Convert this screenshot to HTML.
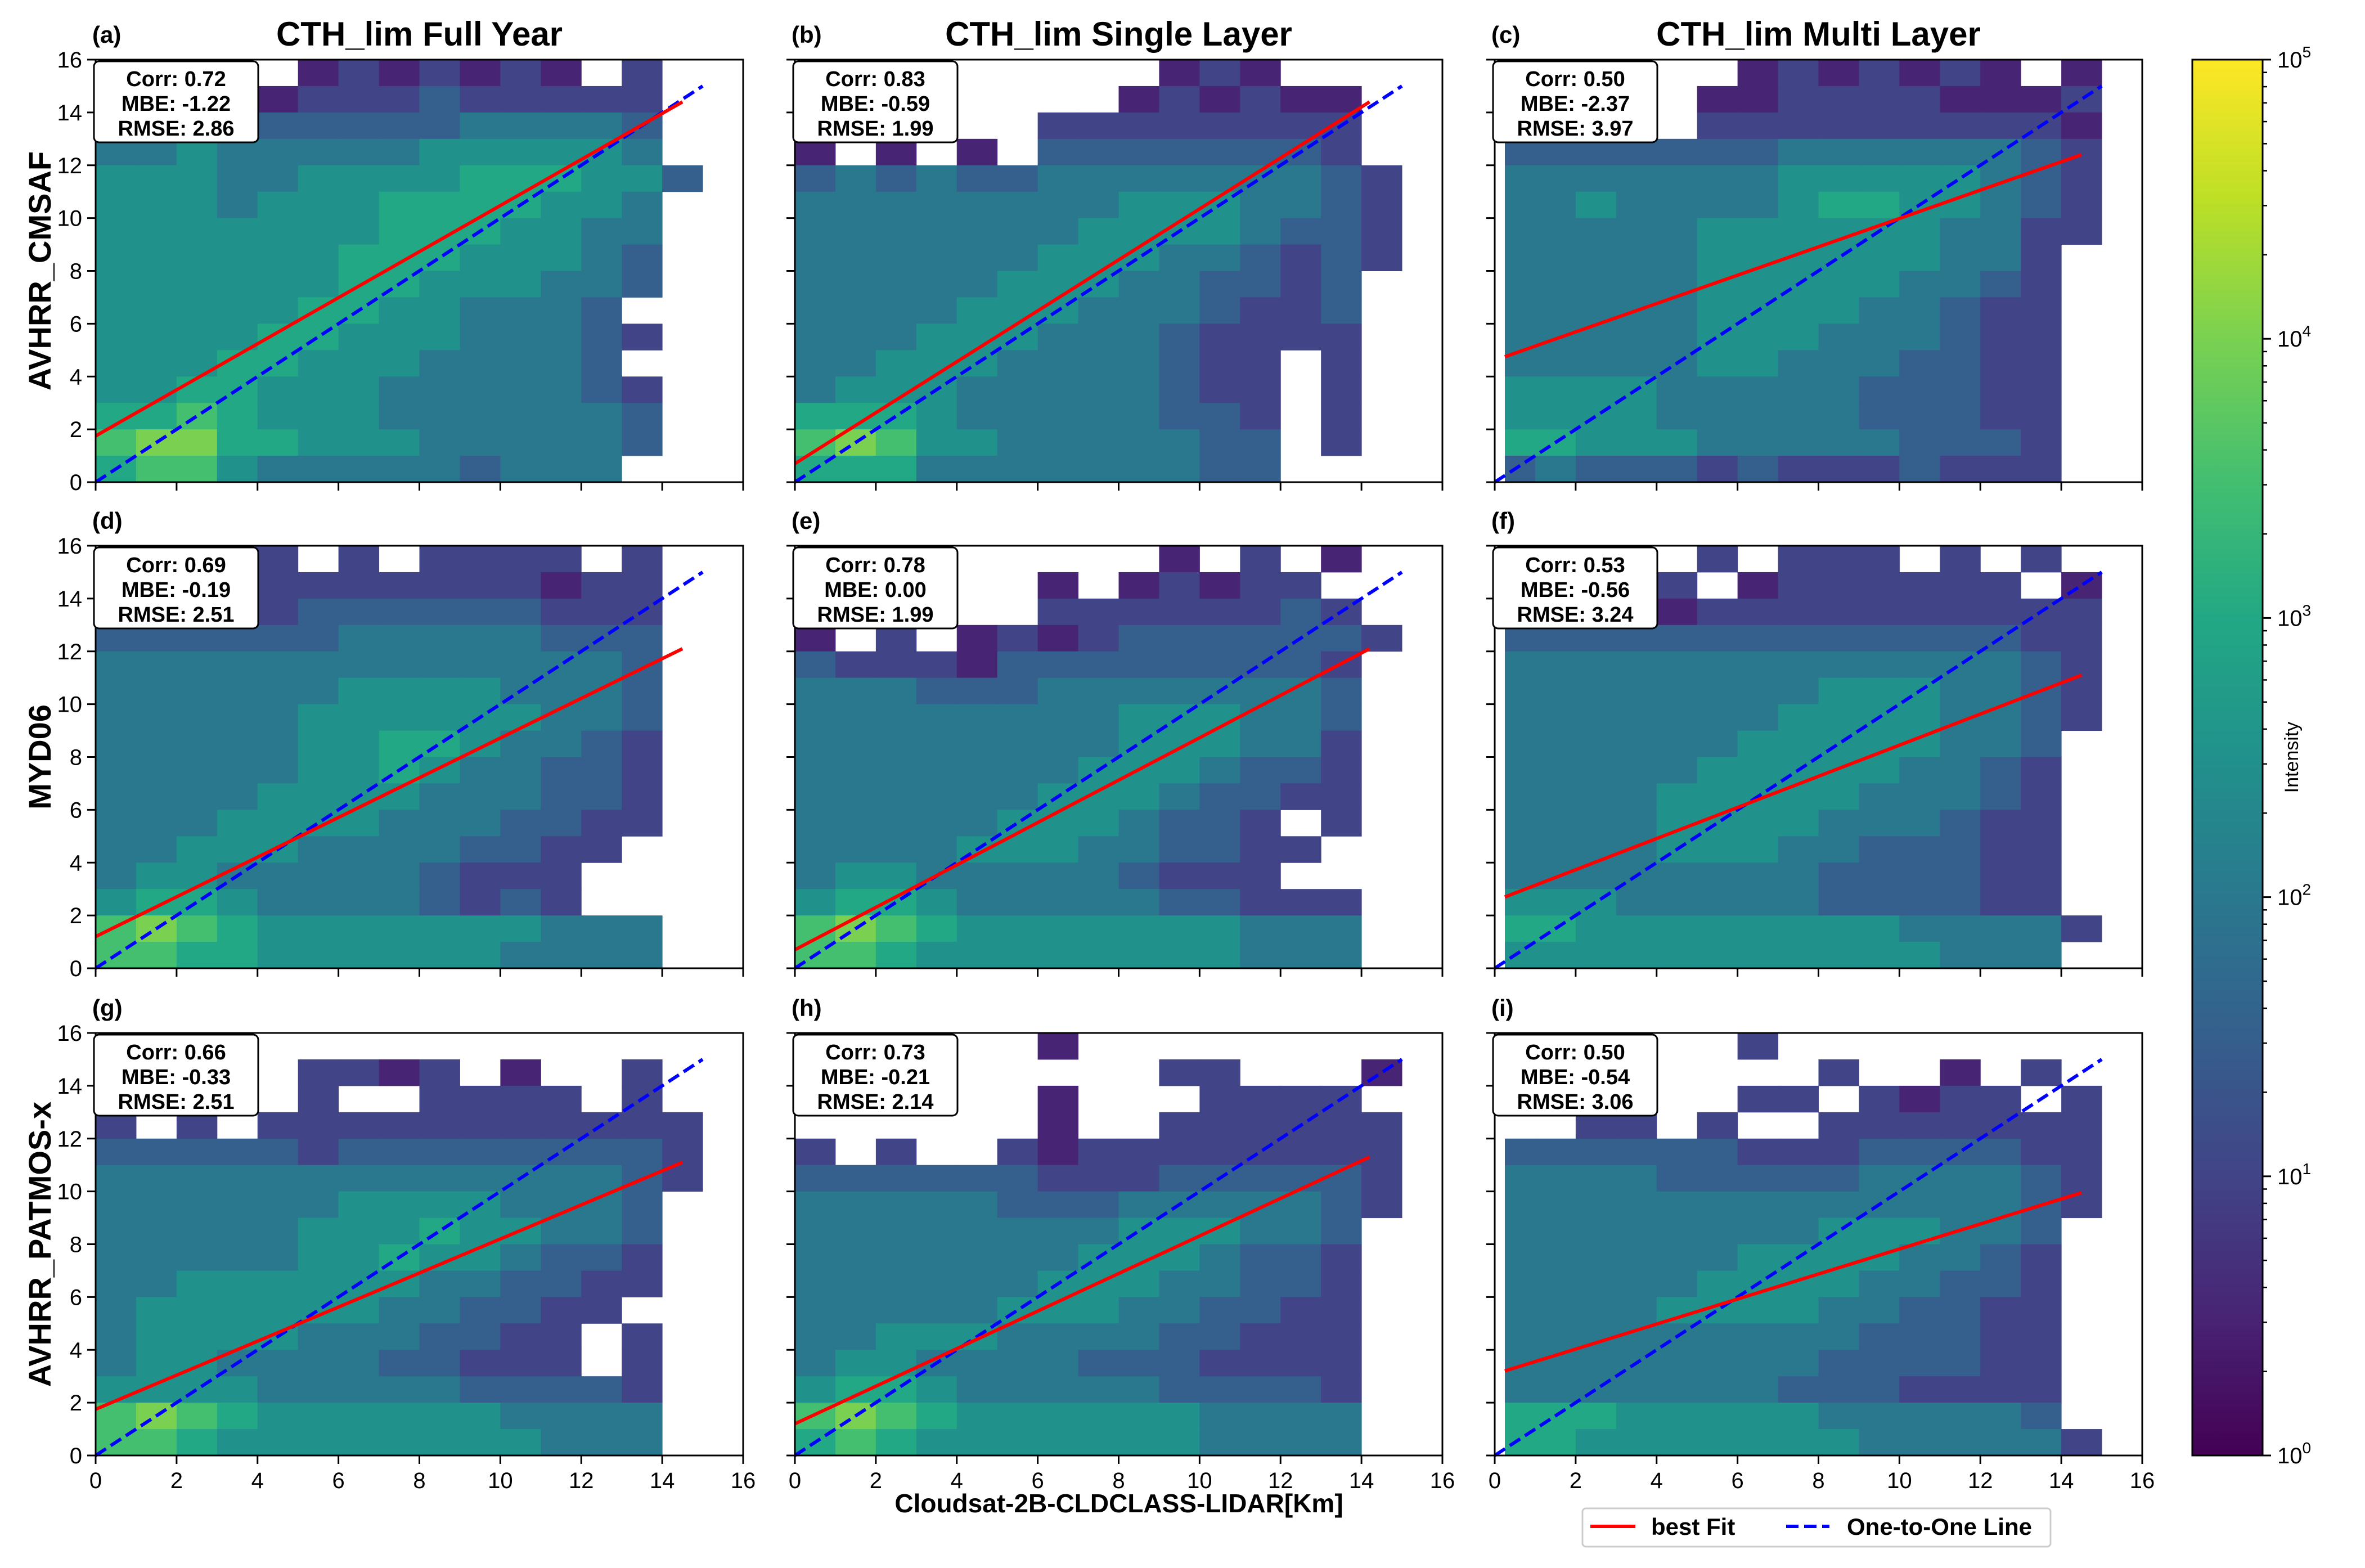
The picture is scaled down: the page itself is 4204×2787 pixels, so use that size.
<!DOCTYPE html>
<html><head><meta charset="utf-8"><style>
html,body{margin:0;padding:0;background:#fff;}
svg{display:block;font-family:"Liberation Sans",sans-serif;}
</style></head><body>
<svg id="fig" width="4204" height="2787" viewBox="0 0 4204 2787" xmlns="http://www.w3.org/2000/svg">
<defs>
<linearGradient id="vir" x1="0" y1="1" x2="0" y2="0">
<stop offset="0" stop-color="#440154"/><stop offset="0.1" stop-color="#482475"/><stop offset="0.2" stop-color="#414487"/><stop offset="0.3" stop-color="#355f8d"/><stop offset="0.4" stop-color="#2a788e"/><stop offset="0.5" stop-color="#21918c"/><stop offset="0.6" stop-color="#22a884"/><stop offset="0.7" stop-color="#44bf70"/><stop offset="0.8" stop-color="#7ad151"/><stop offset="0.9" stop-color="#bddf26"/><stop offset="1" stop-color="#fde725"/>
</linearGradient>
</defs>
<g id="panels"></g>
<g id="cbar"></g>
<text x="1989" y="2688" font-size="46" font-weight="bold" text-anchor="middle">Cloudsat-2B-CLDCLASS-LIDAR[Km]</text>
<text x="4085" y="1346" font-size="34" text-anchor="middle" transform="rotate(-90 4085 1346)">Intensity</text>
<g>
<rect x="2813" y="2681" width="832" height="68" rx="6" fill="#fff" stroke="#cccccc" stroke-width="3"/>
<line x1="2827" y1="2713" x2="2907" y2="2713" stroke="#ff0000" stroke-width="6"/>
<text x="2935" y="2728" font-size="42" font-weight="bold">best Fit</text>
<line x1="3175" y1="2713" x2="3252" y2="2713" stroke="#0000ff" stroke-width="6" stroke-dasharray="22,10"/>
<text x="3283" y="2728" font-size="42" font-weight="bold">One-to-One Line</text>
</g>
</svg>
<script>
// heatmap grids: rows from y=15..16 (top) down to y=0..1; char per 1 km column; digit d -> log10(count)=d*0.5, '.' = empty
const gridA=[".....1212121.2..","...11222322222..","33333333344443..","44544444555554..","5554455556665532","55545556666554..","55555556665544..","55555566655543..","55555566555443..","5555566554443...","55556655544432..","5556655544443...","55665554444432..","66765554444443..","78866555444443..","6775444443444...."];
const gridB=[".........121...","........121211.","......22222222.","1.1.1.33333332.","343433444444432","444444445554432","444444455554332","444444555443232","44444555443323.","44445554443223.","44455544432222.","445554444322.2.","455544444322.2.","666544444332.2.","787554444433.2.","666444444433..."];
const gridC=["......1212121.1",".....1122221112",".....2222222221","333333344444432","444444455555432","445444456655432","444445555554422","44444555555442.","44444555554432.","44444555544322.","44444555444322.","44444554443322.","55554444433322.","55554444433322.","66555444443332.","34333232223222."];
const gridD=["...22.2.2222.2.","..122222222122.","2.222333333222.","33333344444333.","44444444444443.","44444455554443.","44444555555443.","44444556654432.","44444556544332.","44445555444332.","44455554443322.","4455544443322..","455444443222...","566544443232...","78765555555444.","77665555554444."];
const gridE=[".........1.2.1.","......1.12122..","......22222232.","1.2.12123333332","32221333333332.","44433344444443.","44444444555443.","44444444555442.","44444445554332.","44444455543322.","444445554332.2.","4444555443322..","455444443222...","56654444433222.","78765555555444.","77655555555444."];
const gridF=[".....2.222.2.2.","....2.1222222.1","....12222222222","333333333333322","444444444444432","444444445554432","444444455554432","44444455555443.","44444555554432.","44445555544432.","44445555444322.","44445554433322.","44444444333322.","55544444333322.","665555555544442","55555555555444."];
const gridG=["..1............","...1.2212.1..2.","..1..2..2222.2.","2.2.22222222222","333332333333332","444444444444432","44444455554443.","44444555655443.","44444556554332.","44555555443322.","4555555443322..","455554443322.2.","455444433222.2.","55554444433332.","78765555554444.","77655555555444."];
const gridH=["......1........",".........22...1","......1...2222.","......1..222222","2.2..2122222222","333333222333332","444443334444432","44444444555443.","44444445554332.","44444455544332.","44444555443322.","44555444433222.","45544443332222.","56654444433332.","78765555554444.","67655555554444."];
const gridI=["......2........","........2..1.2.","...2..22.2122.2","..22.2..2222222","333333222333322","444433333444432","444444444444432","44444444555443.","44444455554432.","44444555544332.","44445555443322.","44444444433322.","44444444333322.","44444443332222.","66655555444443.","665555555444442"];
const grids=[gridA,gridB,gridC,gridD,gridE,gridF,gridG,gridH,gridI];
const dataXmin=[0,0,0.25,0,0,0.25,0,0,0.25];
// best-fit line endpoints
const fitStartX=[0,0,0.25,0,0,0.25,0,0,0.25];
const fitStartY=[1.75,0.7,4.75,1.2,0.7,2.7,1.75,1.2,3.2];
const fitEndX=[14.5,14.2,14.5,14.5,14.2,14.5,14.5,14.2,14.5];
const fitEndY=[14.4,14.4,12.4,12.1,12.1,11.1,11.1,11.3,9.95];
const corrVals=["0.72","0.83","0.50","0.69","0.78","0.53","0.66","0.73","0.50"];
const mbeVals=["-1.22","-0.59","-2.37","-0.19","0.00","-0.56","-0.33","-0.21","-0.54"];
const rmseVals=["2.86","1.99","3.97","2.51","1.99","3.24","2.51","2.14","3.06"];
const panelLetters=["(a)","(b)","(c)","(d)","(e)","(f)","(g)","(h)","(i)"];
const colTitles=["CTH_lim Full Year","CTH_lim Single Layer","CTH_lim Multi Layer"];
const rowTitles=["AVHRR_CMSAF","MYD06","AVHRR_PATMOS-x"];
const tickVals=[0,2,4,6,8,10,12,14,16];
const cbTicks=[0,1,2,3,4,5];

const vir=["#440154","#482475","#414487","#355f8d","#2a788e","#21918c","#22a884","#44bf70","#7ad151","#bddf26","#fde725"];
const NS="http://www.w3.org/2000/svg";
const panelLeft=[170,1413,2657], panelTop=[106,970,1836], PW=1151, PH=751, DMAX=16;
function mk(tag,attrs,parent){const e=document.createElementNS(NS,tag);for(const k in attrs)e.setAttribute(k,attrs[k]);parent.appendChild(e);return e;}
const root=document.getElementById('panels');
for(let p=0;p<9;p++){
  const r=Math.floor(p/3), c=p%3;
  const L=panelLeft[c], T=panelTop[r];
  const sx=v=>L+v/DMAX*PW, sy=v=>T+PH-v/DMAX*PH;
  const g=mk('g',{},root);
  
  
  const hm=mk('g',{},g);
  
  
  const grid=grids[p];
  for(let ri=0;ri<grid.length;ri++){
    const y0=grid.length-1-ri;
    const row=grid[ri];
    for(let ci=0;ci<Math.min(row.length,15);ci++){
      const ch=row[ci]; if(ch==='.'||ch===' ')continue;
      const d=parseInt(ch,10);
      const xa=Math.max(ci,dataXmin[p]);
      const cell=mk('rect',{x:sx(xa),y:sy(y0+1),width:sx(ci+1)-sx(xa)+0.5,height:sy(y0)-sy(y0+1)+0.5,fill:vir[Math.min(10,d)]},hm);
      
      
    }
  }
  const one=mk('line',{x1:sx(0),y1:sy(0),x2:sx(15),y2:sy(15),stroke:'#0000ff','stroke-width':6,'stroke-dasharray':'22,10'},g);
  
  
  const fit=mk('line',{x1:sx(fitStartX[p]),y1:sy(fitStartY[p]),x2:sx(fitEndX[p]),y2:sy(fitEndY[p]),stroke:'#ff0000','stroke-width':6},g);
  
  
  const fr=mk('rect',{x:L,y:T,width:PW,height:PH,fill:'none',stroke:'#000','stroke-width':3},g);
  
  
  for(const t of tickVals){
    mk('line',{x1:sx(t),y1:T+PH,x2:sx(t),y2:T+PH+15,stroke:'#000','stroke-width':3},g);
    mk('line',{x1:L-15,y1:sy(t),x2:L,y2:sy(t),stroke:'#000','stroke-width':3},g);
    if(r===2){const tl=mk('text',{x:sx(t),y:T+PH+58,'font-size':40,'text-anchor':'middle'},g);tl.textContent=t;
      
      }
    if(c===0){const tl=mk('text',{x:L-24,y:sy(t)+14,'font-size':40,'text-anchor':'end'},g);tl.textContent=t;
      
      }
  }
  const bx=mk('g',{},g);
  
  
  mk('rect',{x:L-3,y:T+3,width:292,height:144,rx:9,fill:'#fff',stroke:'#000','stroke-width':3},bx);
  const lines=["Corr: "+corrVals[p]," MBE: "+mbeVals[p],"RMSE: "+rmseVals[p]];
  lines.forEach((s,i)=>{const t=mk('text',{x:L+143,y:T+47+i*44,'font-size':38,'font-weight':'bold','text-anchor':'middle','xml:space':'preserve'},bx);t.textContent=s;});
  const lab=mk('text',{x:L-6,y:T-30,'font-size':42,'font-weight':'bold'},g);
  lab.textContent=panelLetters[p];
  
  
  if(r===0){const tt=mk('text',{x:L+PW/2,y:T-25,'font-size':60,'font-weight':'bold','text-anchor':'middle'},g);tt.textContent=colTitles[c];
    
    }
  if(c===0){const cx=70, cy=T+PH/2;const yt=mk('text',{x:cx,y:cy+20,'font-size':56,'font-weight':'bold','text-anchor':'middle',transform:`rotate(-90 ${cx} ${cy})`},g);yt.textContent=rowTitles[r];
    
    }
}
const cb=document.getElementById('cbar');
const CBL=3897, CBR=4022, CBT=106, CBB=2587, CBH=CBB-CBT;
mk('rect',{x:CBL,y:CBT,width:CBR-CBL,height:CBH,fill:'url(#vir)',stroke:'#000','stroke-width':3},cb);
const cy=v=>CBB-v/5*CBH;
for(const k of cbTicks){
  mk('line',{x1:CBR,y1:cy(k),x2:CBR+15,y2:cy(k),stroke:'#000','stroke-width':3},cb);
  const t=mk('text',{x:CBR+26,y:cy(k)+14,'font-size':40},cb);
  
  
  t.textContent='10';
  const s=mk('tspan',{dy:-18,'font-size':28},t); s.textContent=k;
  if(k<5){for(let m=2;m<10;m++){const yy=cy(k+Math.log10(m));mk('line',{x1:CBR,y1:yy,x2:CBR+8,y2:yy,stroke:'#000','stroke-width':2.5},cb);}}
}
</script>
</body></html>
